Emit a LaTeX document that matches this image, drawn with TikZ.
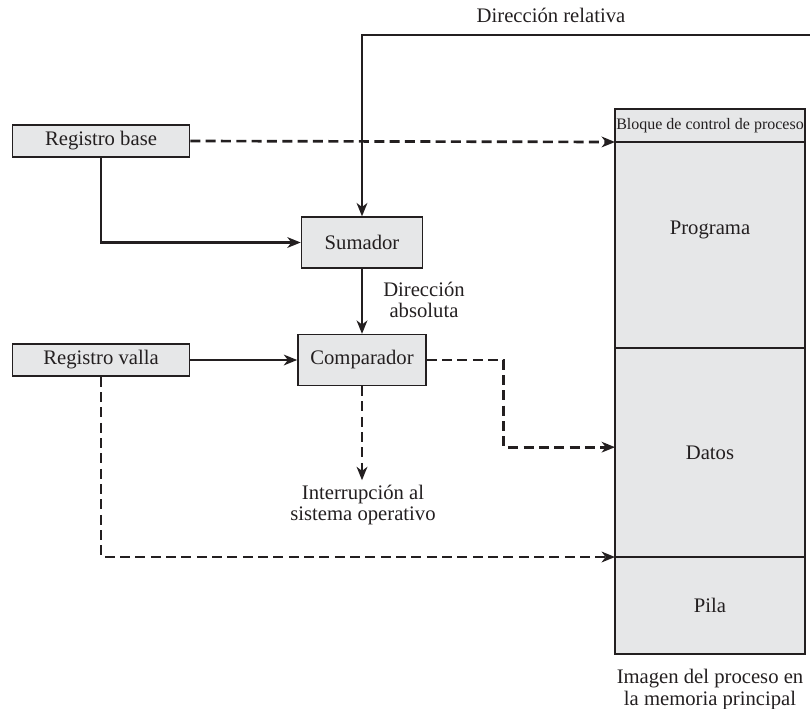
\documentclass[tikz,border=0pt]{standalone}
\usepackage{fontspec}
\setmainfont{Liberation Serif}
\usetikzlibrary{arrows.meta,positioning}
\definecolor{gris}{HTML}{E6E7E8}
\definecolor{tinta}{HTML}{231F20}

\begin{document}
\begin{tikzpicture}[x=0.75pt,y=-0.75pt,
  font=\fontsize{15.5}{16}\selectfont, text=tinta,
  caja/.style={draw=tinta, line width=1.2pt, fill=gris, inner sep=0pt, minimum height=38pt},
  seccion/.style={draw=tinta, line width=1pt, fill=gris, minimum width=142.5pt, inner sep=0pt, outer sep=0pt},
  flecha/.style={draw=tinta, line width=2pt, -{Stealth[length=10pt,width=8pt,inset=3pt]}},
  guion/.style={flecha, dash pattern=on 7.5pt off 4pt}]
\useasboundingbox (0,0) rectangle (810,708);

% registros y bloques de calculo
\node[caja, minimum width=132.75pt, minimum height=24pt] (base) at (101,141) {Registro base};
\node[caja, minimum width=132.75pt, minimum height=24pt] (valla) at (101,360) {Registro valla};
\node[caja, minimum width=90.75pt] (sumador) at (362,242.5) {Sumador};
\node[caja, minimum width=96pt] (comparador) at (362,360) {Comparador};

% imagen del proceso
\node[seccion, minimum height=24.75pt, font=\fontsize{12}{12}\selectfont] (bloque) at (710,125.5)
{Bloque de control de proceso};
\node[seccion, minimum height=154.5pt, below=0pt of bloque,
  label={[yshift=11.25pt]center:Programa}] (programa) {};
\node[seccion, minimum height=156.75pt, below=0pt of programa] (datos) {Datos};
\node[seccion, minimum height=72.75pt, below=0pt of datos] (pila) {Pila};
\node[below=8pt of pila, align=center] (imagen) {Imagen del proceso en\\la memoria principal};

% textos sueltos
\node (relativa) at (551,15) {Dirección relativa};
\node[align=center] (absoluta) at (424,300) {Dirección\\absoluta};
\node[align=center] (sistema) at (363,505) {Interrupción al\\sistema operativo};
\coordinate (entrada) at (810,35);

% conexiones
\draw[flecha] (entrada) -| (sumador.north);
\draw[flecha] (base.south) |- (sumador.west);
\draw[guion] (base.east) -- (bloque.south west);
\draw[flecha] (sumador.south) -- (comparador.north);
\draw[flecha] (valla.east) -- (comparador.west);
\draw[guion] (comparador.east) -- ++(77,0) |- ([yshift=4pt]datos.west);
\draw[guion] (comparador.south) -- (comparador.south |- sistema.north);
\draw[guion] (valla.south) |- (pila.north west);
\end{tikzpicture}
\end{document}
